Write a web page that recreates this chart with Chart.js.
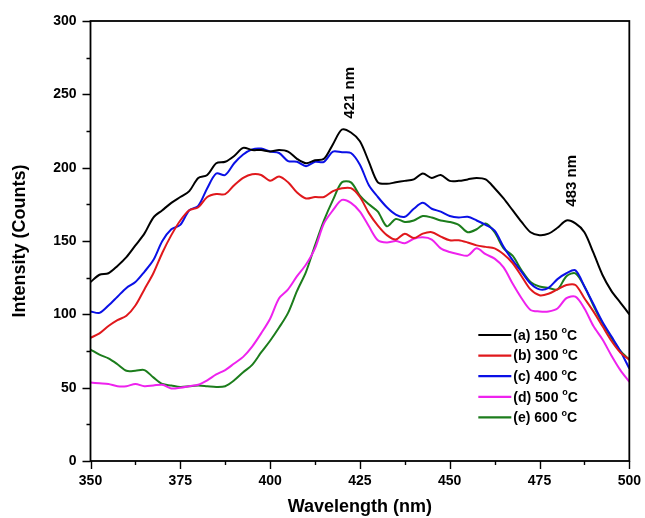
<!DOCTYPE html>
<html>
<head>
<meta charset="utf-8">
<script src="https://cdn.jsdelivr.net/npm/chart.js@4.4.1/dist/chart.umd.min.js"></script>
<style>
  html, body { margin: 0; padding: 0; background: #fff; }
  #wrap { width: 645px; height: 518px; position: relative; }
</style>
</head>
<body>
<div id="wrap"><canvas id="spectra"></canvas></div>
<script>
// wavelengths (nm), 2.5 nm steps
var wavelengths = [
  350, 352.5, 355, 357.5, 360, 362.5, 365, 367.5, 370, 372.5,
  375, 377.5, 380, 382.5, 385, 387.5, 390, 392.5, 395, 397.5,
  400, 402.5, 405, 407.5, 410, 412.5, 415, 417.5, 420, 422.5,
  425, 427.5, 430, 432.5, 435, 437.5, 440, 442.5, 445, 447.5,
  450, 452.5, 455, 457.5, 460, 462.5, 465, 467.5, 470, 472.5,
  475, 477.5, 480, 482.5, 485, 487.5, 490, 492.5, 495, 497.5, 500
];

var seriesLabels = ['(a) 150', '(b) 300', '(c) 400', '(d) 500', '(e) 600'];
var seriesColors = ['#000000', '#e0181c', '#0a10e6', '#ee22ee', '#1c7d1c'];

var temp150 = [
  122, 127, 128, 133, 139, 147, 155, 166, 171, 176,
  180, 184, 193, 195, 203, 204, 208, 213.5, 212, 212,
  211, 212, 211, 206, 203, 205, 206, 216, 226, 224,
  218, 204, 190, 189, 190, 191, 192, 196, 193, 195,
  191, 191, 192, 193, 192, 186, 179, 171, 163, 156,
  154, 155, 159, 164, 162, 156, 142, 127, 116, 108, 100
];
var temp300 = [
  84, 87, 92, 96, 99, 106, 117, 128, 142, 154,
  164, 171, 173, 180, 182, 182, 188, 193, 195.5, 195,
  191, 194, 190, 183, 179, 180, 180, 184, 186, 186,
  180, 169, 160.5, 154, 151, 155, 152, 155, 156, 153,
  150.5, 150.5, 149, 147, 146, 145, 141, 135, 126, 117,
  113, 114, 117, 120, 120, 111, 102, 92, 82, 74, 69
];
var temp400 = [
  102, 101, 106, 112, 118, 122, 129, 137, 150, 158,
  161, 171, 174, 186, 196, 195, 203, 209, 212.5, 213,
  211, 210, 204.5, 204, 201, 204, 204, 211, 210.5, 210,
  202, 188, 180, 173, 168, 166.5, 172, 176, 172, 170,
  167, 166, 166.5, 164, 161, 157, 146, 137, 129, 121,
  117, 118, 124, 128, 130, 119, 107, 95, 85, 75, 63
];
var temp500 = [
  53.5, 53, 52.5, 51, 51, 52.5, 51, 51.5, 52, 49.5,
  50, 51, 52, 55, 59, 62, 66.5, 71, 78, 87,
  97, 111, 117, 126, 134, 145, 162, 171, 178, 176,
  170, 160, 150.5, 149, 150, 148.5, 151.5, 152.5, 151, 145,
  142.5, 141, 140, 145, 141, 138, 132, 121, 111, 103,
  102, 102, 104, 111, 112, 104, 92, 83, 72, 62, 54
];
var temp600 = [
  76, 72.5, 70, 66, 61.5, 61.5, 62, 57, 52.5, 51.5,
  50.5, 51, 51.5, 51, 50.5, 51, 55, 60.5, 65.5, 74,
  82, 91, 101, 116, 129, 147, 164, 178, 190, 190,
  181, 175, 170, 160, 165, 163, 164, 167, 166, 164,
  163, 161, 156, 158, 162, 156, 145, 140, 130, 122,
  119, 118, 117, 126, 128, 119, 106, 94, 84, 75, 69
];
var allSeries = [temp150, temp300, temp400, temp500, temp600];

// peak annotations: [wavelength, intensity, text]
var peakNotes = [[422.1, 251, '421 nm'], [484, 191, '483 nm']];

var FONT = '"Liberation Sans", Arial, sans-serif';

function toPoints(vals) {
  return wavelengths.map(function (w, i) { return { x: w, y: vals[i] }; });
}

var decorPlugin = {
  id: 'decor',
  afterDraw: function (chart) {
    var ctx = chart.ctx, a = chart.chartArea;
    var xs = chart.scales.x, ys = chart.scales.y;
    ctx.save();

    // frame
    ctx.strokeStyle = '#000';
    ctx.lineWidth = 1.8;
    ctx.strokeRect(a.left, a.top, a.right - a.left, a.bottom - a.top);

    // outward ticks, major and minor
    ctx.lineWidth = 1.4;
    ctx.beginPath();
    for (var v = ys.min; v <= ys.max; v += 25) {
      var py = Math.round(ys.getPixelForValue(v)) + 0.5;
      var len = (v % 50) ? 4 : 8;
      ctx.moveTo(a.left - len, py);
      ctx.lineTo(a.left, py);
    }
    for (var w = xs.min; w <= xs.max; w += 12.5) {
      var px = Math.round(xs.getPixelForValue(w)) + 0.5;
      var l2 = ((w - 350) % 25) ? 4 : 8;
      ctx.moveTo(px, a.bottom);
      ctx.lineTo(px, a.bottom + l2);
    }
    ctx.stroke();

    // peak labels
    ctx.fillStyle = '#000';
    ctx.font = 'bold 15px ' + FONT;
    ctx.textAlign = 'center';
    ctx.textBaseline = 'middle';
    peakNotes.forEach(function (n) {
      ctx.save();
      ctx.translate(xs.getPixelForValue(n[0]), ys.getPixelForValue(n[1]));
      ctx.rotate(-Math.PI / 2);
      ctx.fillText(n[2], 0, 0);
      ctx.restore();
    });

    // legend, bottom right inside the frame
    var lx0 = a.right - 151, lx1 = a.right - 118, tx = a.right - 116;
    var ty0 = a.bottom - 126;
    ctx.textAlign = 'left';
    chart.data.datasets.forEach(function (ds, i) {
      var yy = ty0 + i * 20.6;
      ctx.strokeStyle = ds.borderColor;
      ctx.lineWidth = 2.2;
      ctx.beginPath();
      ctx.moveTo(lx0, yy);
      ctx.lineTo(lx1, yy);
      ctx.stroke();
      ctx.font = 'bold 14px ' + FONT;
      ctx.fillText(ds.label + ' ', tx, yy + 1);
      var wdt = ctx.measureText(ds.label + ' ').width;
      ctx.font = 'bold 9px ' + FONT;
      ctx.fillText('o', tx + wdt, yy - 4);
      var ow = ctx.measureText('o').width;
      ctx.font = 'bold 14px ' + FONT;
      ctx.fillText('C', tx + wdt + ow, yy + 1);
    });
    ctx.restore();
  }
};

var ctx = document.getElementById('spectra').getContext('2d');
window.spectraChart = new Chart(ctx, {
  type: 'line',
  data: {
    datasets: allSeries.map(function (vals, i) {
      return {
        label: seriesLabels[i],
        data: toPoints(vals),
        borderColor: seriesColors[i],
        backgroundColor: seriesColors[i],
        borderWidth: 2,
        pointRadius: 0,
        tension: 0.3,
        fill: false
      };
    })
  },
  options: {
    responsive: true,
    maintainAspectRatio: false,
    animation: false,
    layout: { padding: { left: 0, right: 14, top: 21, bottom: 0 } },
    plugins: {
      legend: { display: false },
      tooltip: { enabled: false }
    },
    scales: {
      x: {
        type: 'linear',
        min: 350,
        max: 500,
        grid: { drawOnChartArea: false, color: 'rgba(0,0,0,0)', tickLength: 8 },
        border: { display: false },
        ticks: {
          stepSize: 25,
          padding: 4,
          color: '#000',
          font: { family: FONT, size: 14, weight: 'bold' },
          maxRotation: 0
        },
        title: {
          display: true,
          text: 'Wavelength (nm)',
          color: '#000',
          font: { family: FONT, size: 18, weight: 'bold' },
          padding: { top: 0, bottom: 0 }
        },
        afterFit: function (s) { s.height = 57; }
      },
      y: {
        min: 0,
        max: 300,
        grid: { drawOnChartArea: false, color: 'rgba(0,0,0,0)', tickLength: 8 },
        border: { display: false },
        ticks: {
          stepSize: 50,
          padding: 6,
          color: '#000',
          font: { family: FONT, size: 14, weight: 'bold' }
        },
        title: {
          display: true,
          text: 'Intensity (Counts)',
          color: '#000',
          font: { family: FONT, size: 18, weight: 'bold' },
          padding: { top: 9, bottom: 0 }
        },
        afterFit: function (s) { s.width = 90.5; }
      }
    }
  },
  plugins: [decorPlugin]
});
</script>
</body>
</html>
